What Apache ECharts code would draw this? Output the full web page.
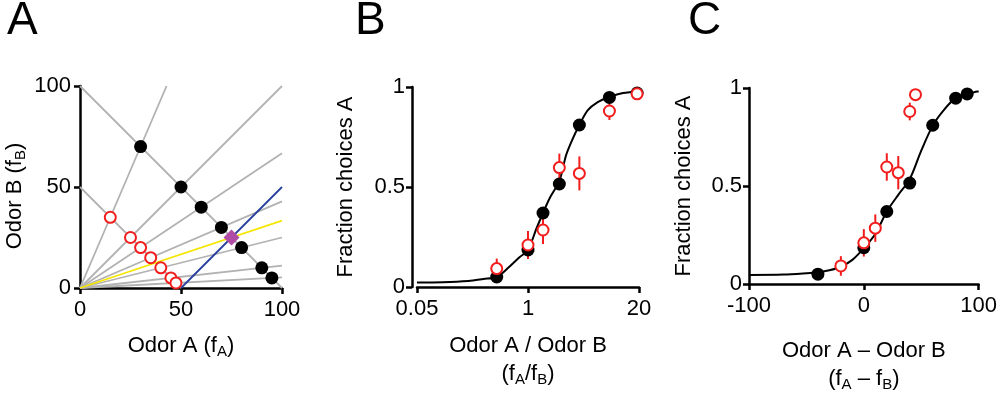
<!DOCTYPE html>
<html>
<head>
<meta charset="utf-8">
<script src="https://cdn.jsdelivr.net/npm/echarts@6/dist/echarts.min.js"></script>
<style>
  html, body { margin: 0; background: #fff; }
  #chart { width: 1000px; height: 397px; }
</style>
</head>
<body>
<div id="chart"></div>
<script>
// panel A: stimulus space (odor A vs odor B concentration)
const blackOdorA = [30, 50, 60, 70, 80, 90, 95];
const blackOdorB = [70, 50, 40, 30, 20, 10, 5];
const redOdorA = [15, 25, 30, 35, 40, 45, 47.5];
const redOdorB = [35, 25, 20, 15, 10, 5, 2.5];
const sumTotals = [100, 50];      // grey iso-total lines
const yellowRatio = 3;            // fA / fB
const blueDiff = 50;              // fA - fB
const diamondPoint = [75, 25];

// panels B and C: behaviour
const ratios = [0.43, 1, 1.5, 2.33, 4, 9, 19];
const blackDiffs = [-40, 0, 20, 40, 60, 80, 90];
const redDiffs = [-20, 0, 10, 20, 30, 40, 45];
const blackFrac = [0.05, 0.185, 0.37, 0.515, 0.81, 0.948, 0.97];
const redFrac = [0.092, 0.21, 0.285, 0.597, 0.568, 0.88, 0.966];
const redErr = [0.05, 0.07, 0.07, 0.07, 0.085, 0.045, 0.01];

// fitted curves
const fitRatioX = [0.05, 0.1, 0.2, 0.3, 0.43, 0.6, 0.8, 1, 1.25, 1.5, 1.8, 2.33, 2.8, 3.3, 4, 5, 6.5, 9, 13, 20];
const fitRatioY = [0.023, 0.024, 0.03, 0.04, 0.05, 0.1, 0.15, 0.185, 0.29, 0.37, 0.445, 0.53, 0.66, 0.736, 0.81, 0.883, 0.923, 0.95, 0.97, 0.978];
const fitDiffX = [-100, -70, -50, -40, -30, -20, -10, 0, 10, 20, 30, 40, 50, 60, 70, 80, 90, 100];
const fitDiffY = [0.046, 0.048, 0.055, 0.06, 0.07, 0.088, 0.123, 0.183, 0.255, 0.37, 0.455, 0.535, 0.68, 0.808, 0.89, 0.948, 0.97, 0.983];

const font = "'Liberation Sans', Arial, sans-serif";
const red = '#f21d1d';
const grey = '#b2b2b2';

const rich = {
  n: { fontSize: 22, fontFamily: font, color: '#000', lineHeight: 28, verticalAlign: 'top' },
  s: { fontSize: 15, fontFamily: font, color: '#000', lineHeight: 15, padding: [9, 0, 0, 0], verticalAlign: 'top' }
};

function axis(extra) {
  return Object.assign({
    type: 'value',
    nameLocation: 'middle',
    nameMoveOverlap: false,
    nameTextStyle: { rich: rich },
    axisLine: { show: true, onZero: false, lineStyle: { color: '#000', width: 2.5 } },
    axisTick: { show: true, length: 6, lineStyle: { color: '#000', width: 2.5 } },
    axisLabel: { color: '#000', fontSize: 22, fontFamily: font },
    splitLine: { show: false }
  }, extra);
}

function seg(points, color, width, xi, yi) {
  return {
    type: 'line', xAxisIndex: xi, yAxisIndex: yi, data: points,
    symbol: 'none', silent: true, z: 1,
    lineStyle: { color: color, width: width }
  };
}

const pairs = (xs, ys) => xs.map((x, i) => [x, ys[i]]);

// rays from origin through each stimulus pair, out to the box edge
const rays = blackOdorA.map((a, i) => {
  const b = blackOdorB[i];
  const k = 100 / Math.max(a, b);
  return seg([[0, 0], [a * k, b * k]], grey, 1.8, 0, 0);
});
const totals = sumTotals.map(t => seg([[0, t], [t, 0]], grey, 1.8, 0, 0));

const errorBars = (xs) => ({
  type: 'custom',
  xAxisIndex: xs === ratios ? 1 : 2,
  yAxisIndex: xs === ratios ? 1 : 2,
  z: 3,
  data: xs.map((x, i) => [x, redFrac[i], redErr[i]]),
  encode: { x: 0, y: 1 },
  renderItem: function (params, api) {
    const x = api.value(0), y = api.value(1), e = api.value(2);
    const p1 = api.coord([x, y - e]);
    const p2 = api.coord([x, y + e]);
    return {
      type: 'line',
      shape: { x1: p1[0], y1: p1[1], x2: p2[0], y2: p2[1] },
      style: { stroke: red, lineWidth: 2 }
    };
  }
});

const blackDots = (data, xi) => ({
  type: 'scatter', xAxisIndex: xi, yAxisIndex: xi, data: data, z: 3,
  symbolSize: 13, itemStyle: { color: '#000', opacity: 1 }
});
const redRings = (data, xi) => ({
  type: 'scatter', xAxisIndex: xi, yAxisIndex: xi, data: data, z: 4,
  symbolSize: 11, itemStyle: { color: '#fff', borderColor: red, borderWidth: 2, opacity: 1 }
});

const chart = echarts.init(document.getElementById('chart'), null, { renderer: 'canvas' });

const option = {
  animation: false,
  backgroundColor: '#fff',
  textStyle: { fontFamily: font },
  grid: [
    { left: 80, top: 86, width: 202, height: 202 },
    { left: 417, top: 87, width: 222, height: 200 },
    { left: 749, top: 88, width: 230, height: 200 }
  ],
  xAxis: [
    axis({ gridIndex: 0, min: 0, max: 100, interval: 50, nameGap: 47,
      name: '{n|Odor A (f}{s|A}{n|)}', axisLabel: { color: '#000', fontSize: 22, fontFamily: font, margin: 11 } }),
    axis({ gridIndex: 1, type: 'log', logBase: 20, min: 0.05, max: 20, nameGap: 48,
      name: '{n|Odor A / Odor B}\n{n|(f}{s|A}{n|/f}{s|B}{n|)}',
      axisLabel: { color: '#000', fontSize: 22, fontFamily: font, margin: 11,
        formatter: v => String(Math.round(v * 100) / 100) } }),
    axis({ gridIndex: 2, min: -100, max: 100, interval: 100, nameGap: 56,
      name: '{n|Odor A \u2013 Odor B}\n{n|(f}{s|A}{n| \u2013 f}{s|B}{n|)}',
      axisLabel: { color: '#000', fontSize: 22, fontFamily: font, margin: 11 } })
  ],
  yAxis: [
    axis({ gridIndex: 0, min: 0, max: 100, interval: 50, nameGap: 48,
      name: '{n|Odor B (f}{s|B}{n|)}',
      nameTextStyle: { rich: rich, padding: [0, 18, 0, 0] },
      axisLabel: { color: '#000', fontSize: 22, fontFamily: font, margin: 9 } }),
    axis({ gridIndex: 1, min: 0, max: 1, interval: 0.5, offset: 5, nameGap: 49,
      name: '{n|Fraction choices A}',
      axisLabel: { color: '#000', fontSize: 22, fontFamily: font, margin: 7 } }),
    axis({ gridIndex: 2, min: 0, max: 1, interval: 0.5, nameGap: 48,
      name: '{n|Fraction choices A}',
      axisLabel: { color: '#000', fontSize: 22, fontFamily: font, margin: 7 } })
  ],
  graphic: [
    { type: 'text', left: 7, top: -2, style: { text: 'A', fontSize: 46, fontFamily: font, fill: '#000' } },
    { type: 'text', left: 355, top: -2, style: { text: 'B', fontSize: 46, fontFamily: font, fill: '#000' } },
    { type: 'text', left: 688, top: -2, style: { text: 'C', fontSize: 46, fontFamily: font, fill: '#000' } }
  ],
  series: [
    // panel A
    ...rays,
    ...totals,
    seg([[0, 0], [100, 100 / yellowRatio]], '#f5e600', 1.8, 0, 0),
    seg([[blueDiff, 0], [100, 100 - blueDiff]], '#263f9c', 1.8, 0, 0),
    blackDots(pairs(blackOdorA, blackOdorB), 0),
    redRings(pairs(redOdorA, redOdorB), 0),
    {
      type: 'scatter', xAxisIndex: 0, yAxisIndex: 0, data: [diamondPoint],
      symbol: 'diamond', symbolSize: 16, itemStyle: { color: '#b04ca5', opacity: 1 }, z: 5
    },
    // panel B
    {
      type: 'line', xAxisIndex: 1, yAxisIndex: 1, data: pairs(fitRatioX, fitRatioY), z: 2,
      symbol: 'none', smooth: 0.3, lineStyle: { color: '#000', width: 2 }
    },
    blackDots(pairs(ratios, blackFrac), 1),
    errorBars(ratios),
    redRings(pairs(ratios, redFrac), 1),
    // panel C
    {
      type: 'line', xAxisIndex: 2, yAxisIndex: 2, data: pairs(fitDiffX, fitDiffY), z: 2,
      symbol: 'none', smooth: 0.3, lineStyle: { color: '#000', width: 2 }
    },
    blackDots(pairs(blackDiffs, blackFrac), 2),
    errorBars(redDiffs),
    redRings(pairs(redDiffs, redFrac), 2)
  ]
};

chart.setOption(option);
window.addEventListener('resize', () => chart.resize());
</script>
</body>
</html>
